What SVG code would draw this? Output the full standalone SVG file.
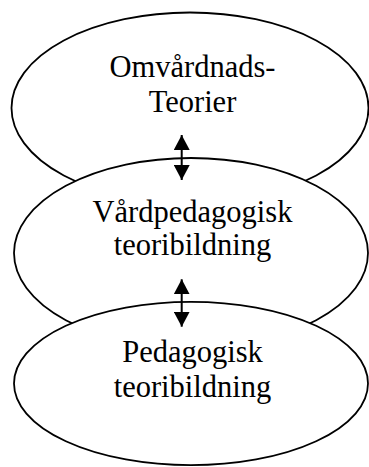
<svg xmlns="http://www.w3.org/2000/svg" width="369" height="467" viewBox="0 0 369 467">
<style>
.node ellipse{fill:#fff;stroke:#000;stroke-width:1.8}
.node text{font-family:"Liberation Serif","Times New Roman",serif;font-size:30.5px;fill:#000;text-anchor:middle}
.conn path{stroke:#000;stroke-width:2;fill:none}
</style>
<defs>
<marker id="ah" markerUnits="userSpaceOnUse" markerWidth="15" markerHeight="16" refX="15" refY="8" orient="auto-start-reverse" viewBox="0 0 15 16">
<path d="M0,0 L15,8 L0,16 z" fill="#000"/>
</marker>
</defs>
<rect width="369" height="467" fill="#fff"/>
<g id="node-omvardnad" class="node">
<ellipse cx="190" cy="108" rx="178.5" ry="95.5"/>
<text x="192.5" y="77">Omvårdnads-</text>
<text x="192.5" y="111.5">Teorier</text>
</g>
<g id="node-vardpedagogisk" class="node">
<ellipse cx="191" cy="253" rx="177" ry="95"/>
<text x="192.5" y="221.5">Vårdpedagogisk</text>
<text x="192.5" y="255">teoribildning</text>
</g>
<g id="node-pedagogisk" class="node">
<ellipse cx="191" cy="383.5" rx="177" ry="81.7"/>
<text x="192.5" y="361.5">Pedagogisk</text>
<text x="192.5" y="396.5">teoribildning</text>
</g>
<g id="connectors" class="conn">
<path d="M181.7,135 L181.7,180" marker-start="url(#ah)" marker-end="url(#ah)"/>
<path d="M181.7,279.3 L181.7,326.7" marker-start="url(#ah)" marker-end="url(#ah)"/>
</g>
</svg>
